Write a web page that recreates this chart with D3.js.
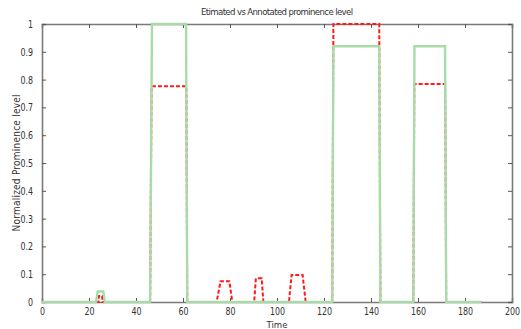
<!DOCTYPE html>
<html>
<head>
<meta charset="utf-8">
<script src="https://cdn.jsdelivr.net/npm/d3@7"></script>
<style>
  body { margin: 0; background: #fff; }
  text { font-family: "Liberation Sans Narrow", "DejaVu Sans Condensed", "Liberation Sans", sans-serif; fill: #333; }
</style>
</head>
<body>
<div id="chart"></div>
<script>
///data: breakpoints
var estTime  = [0, 23, 23.7, 26.1, 26.7, 46, 46.8, 61.3, 61.8, 123.5, 124, 143.5, 144, 158, 158.5, 171.5, 172, 187];
var estValue = [0, 0, 0.038, 0.038, 0, 0, 1, 1, 0, 0, 0.92, 0.92, 0, 0, 0.92, 0.92, 0, 0];

var annTime  = [0, 24.1, 24.2, 25.6, 25.7, 46, 46.62, 61.41, 61.8, 74.3, 76, 79.7, 81, 90.3, 91, 93.5, 94.2,
                105.1, 106.2, 110.9, 112.2, 123.5, 124, 143.5, 144, 158, 158.43, 171.57, 172, 187];
var annValue = [0, 0, 0.022, 0.022, 0, 0, 0.776, 0.776, 0, 0, 0.075, 0.075, 0, 0, 0.085, 0.085, 0,
                0, 0.097, 0.097, 0, 0, 1, 1, 0, 0, 0.784, 0.784, 0, 0];

var xTicks = [0, 20, 40, 60, 80, 100, 120, 140, 160, 180, 200];
var yTicks = [0, 0.1, 0.2, 0.3, 0.4, 0.5, 0.6, 0.7, 0.8, 0.9, 1];

///margins
var width = 521, height = 329;
var margin = {top: 24, right: 9, bottom: 27, left: 42};
var w = width - margin.left - margin.right;
var h = height - margin.top - margin.bottom;
var squeeze = 0.8; // narrow look of the original labels

var svg = d3.select('#chart').append('svg')
    .attr('width', width)
    .attr('height', height);

var g = svg.append('g')
    .attr('transform', `translate(${margin.left},${margin.top})`);

var x = d3.scaleLinear().domain([0, 200]).range([0, w]);
var y = d3.scaleLinear().domain([0, 1]).range([h, 0]);

var fmt = d => d3.format('.1~f')(d);

///axes, ticks inward on all four sides
var axisColor = '#7a7a7a';
var xAxisBottom = g.append('g').attr('transform', `translate(0,${h})`)
    .call(d3.axisBottom(x).tickValues(xTicks).tickSize(-4).tickPadding(5).tickFormat(d3.format('d')));
var xAxisTop = g.append('g')
    .call(d3.axisTop(x).tickValues(xTicks).tickSize(-4).tickFormat(''));
var yAxisLeft = g.append('g')
    .call(d3.axisLeft(y).tickValues(yTicks).tickSize(-4).tickPadding(9).tickFormat(fmt));
var yAxisRight = g.append('g').attr('transform', `translate(${w},0)`)
    .call(d3.axisRight(y).tickValues(yTicks).tickSize(-4).tickFormat(''));

[xAxisBottom, xAxisTop, yAxisLeft, yAxisRight].forEach(a => {
    a.select('.domain').attr('stroke', axisColor).attr('stroke-width', 1.6);
    a.selectAll('.tick line').attr('stroke', '#555').attr('stroke-width', 1);
    a.selectAll('.tick text').attr('font-size', 11).attr('fill', '#444')
        .style('font-family', '"Liberation Sans Narrow", "DejaVu Sans Condensed", sans-serif');
});

// squeeze tick labels horizontally
xAxisBottom.selectAll('.tick text').attr('transform', `scale(${squeeze},1)`);
yAxisLeft.selectAll('.tick text')
    .attr('x', -9 / squeeze)
    .attr('transform', `scale(${squeeze},1)`);

///lines
var line = d3.line()
    .x(d => x(d[0]))
    .y(d => y(d[1]));

var annData = annTime.map((t, i) => [t, annValue[i]]);
var estData = estTime.map((t, i) => [t, estValue[i]]);

g.append('path')
    .datum(annData)
    .attr('fill', 'none')
    .attr('stroke', '#ff1a1a')
    .attr('stroke-width', 2)
    .attr('stroke-dasharray', '4,2')
    .attr('d', line);

g.append('path')
    .datum(estData)
    .attr('fill', 'none')
    .attr('stroke', '#a9dba9')
    .attr('stroke-width', 2.4)
    .attr('d', line);

///titles
svg.append('text')
    .attr('x', margin.left + w / 2)
    .attr('y', 15)
    .attr('text-anchor', 'middle')
    .attr('font-size', 9.5)
    .attr('textLength', 152)
    .text('Etimated vs Annotated prominence level');

svg.append('text')
    .attr('x', margin.left + w / 2)
    .attr('y', 328)
    .attr('text-anchor', 'middle')
    .attr('font-size', 9.5)
    .text('Time');

svg.append('text')
    .attr('transform', `translate(20,${163}) rotate(-90)`)
    .attr('text-anchor', 'middle')
    .attr('font-size', 10)
    .attr('textLength', 137)
    .text('Normalized Prominence level');
</script>
</body>
</html>
